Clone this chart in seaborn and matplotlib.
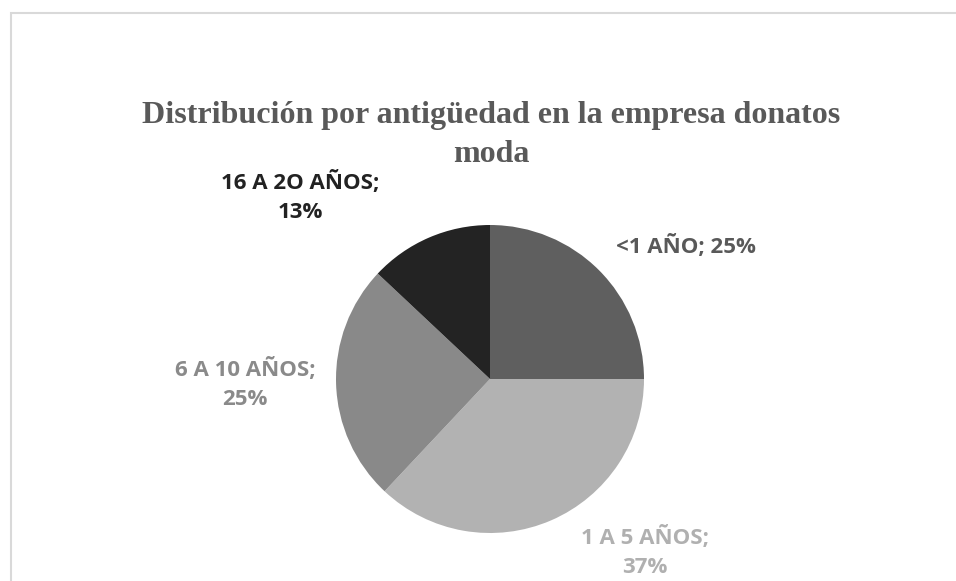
import matplotlib.pyplot as plt
import matplotlib.patches as mpatches
import seaborn as sns

# Datos del gráfico
categorias = ["<1 AÑO", "1 A 5 AÑOS", "6 A 10 AÑOS", "16 A 2O AÑOS"]
porcentajes = [25, 37, 25, 13]
colores = ["#5f5f5f", "#b2b2b2", "#898989", "#232323"]
colores_texto = ["#595959", "#b0b0b0", "#8a8a8a", "#222222"]
etiquetas = ["<1 AÑO; 25%", "1 A 5 AÑOS;\n37%", "6 A 10 AÑOS;\n25%", "16 A 2O AÑOS;\n13%"]

sns.set_theme(style="white")

W, H = 956, 581
fig = plt.figure(figsize=(W / 100, H / 100), dpi=100)
fig.patch.set_facecolor("white")

# marco del gráfico
marco = mpatches.Rectangle((11 / W, -0.1), 1.2, (H - 13) / H + 0.1, transform=fig.transFigure,
                           fill=False, edgecolor="#d9d9d9", linewidth=1.5)
fig.patches.append(marco)

cx, cy, r = 490, 379, 154
ax = fig.add_axes([(cx - r) / W, (H - cy - r) / H, 2 * r / W, 2 * r / H])
ax.pie(porcentajes, colors=colores, startangle=90, counterclock=False,
       wedgeprops={"linewidth": 0})
ax.set_xlim(-1, 1)
ax.set_ylim(-1, 1)
ax.set_aspect("equal")
ax.axis("off")

fig.text(491 / W, 1 - 135 / H, "Distribución por antigüedad en la empresa donatos\nmoda",
         ha="center", va="center", fontsize=23, fontweight="bold",
         family="Liberation Serif", color="#595959", linespacing=1.42)

# posiciones de las etiquetas (px)
pos = [(686, 246), (645, 552), (245, 384), (300, 197)]
for (x, y), txt, c in zip(pos, etiquetas, colores_texto):
    fig.text(x / W, 1 - y / H, txt, ha="center", va="center", fontsize=16,
             fontweight="bold", family="Open Sans", color=c, linespacing=1.55)

plt.savefig("out.png", dpi=100)
